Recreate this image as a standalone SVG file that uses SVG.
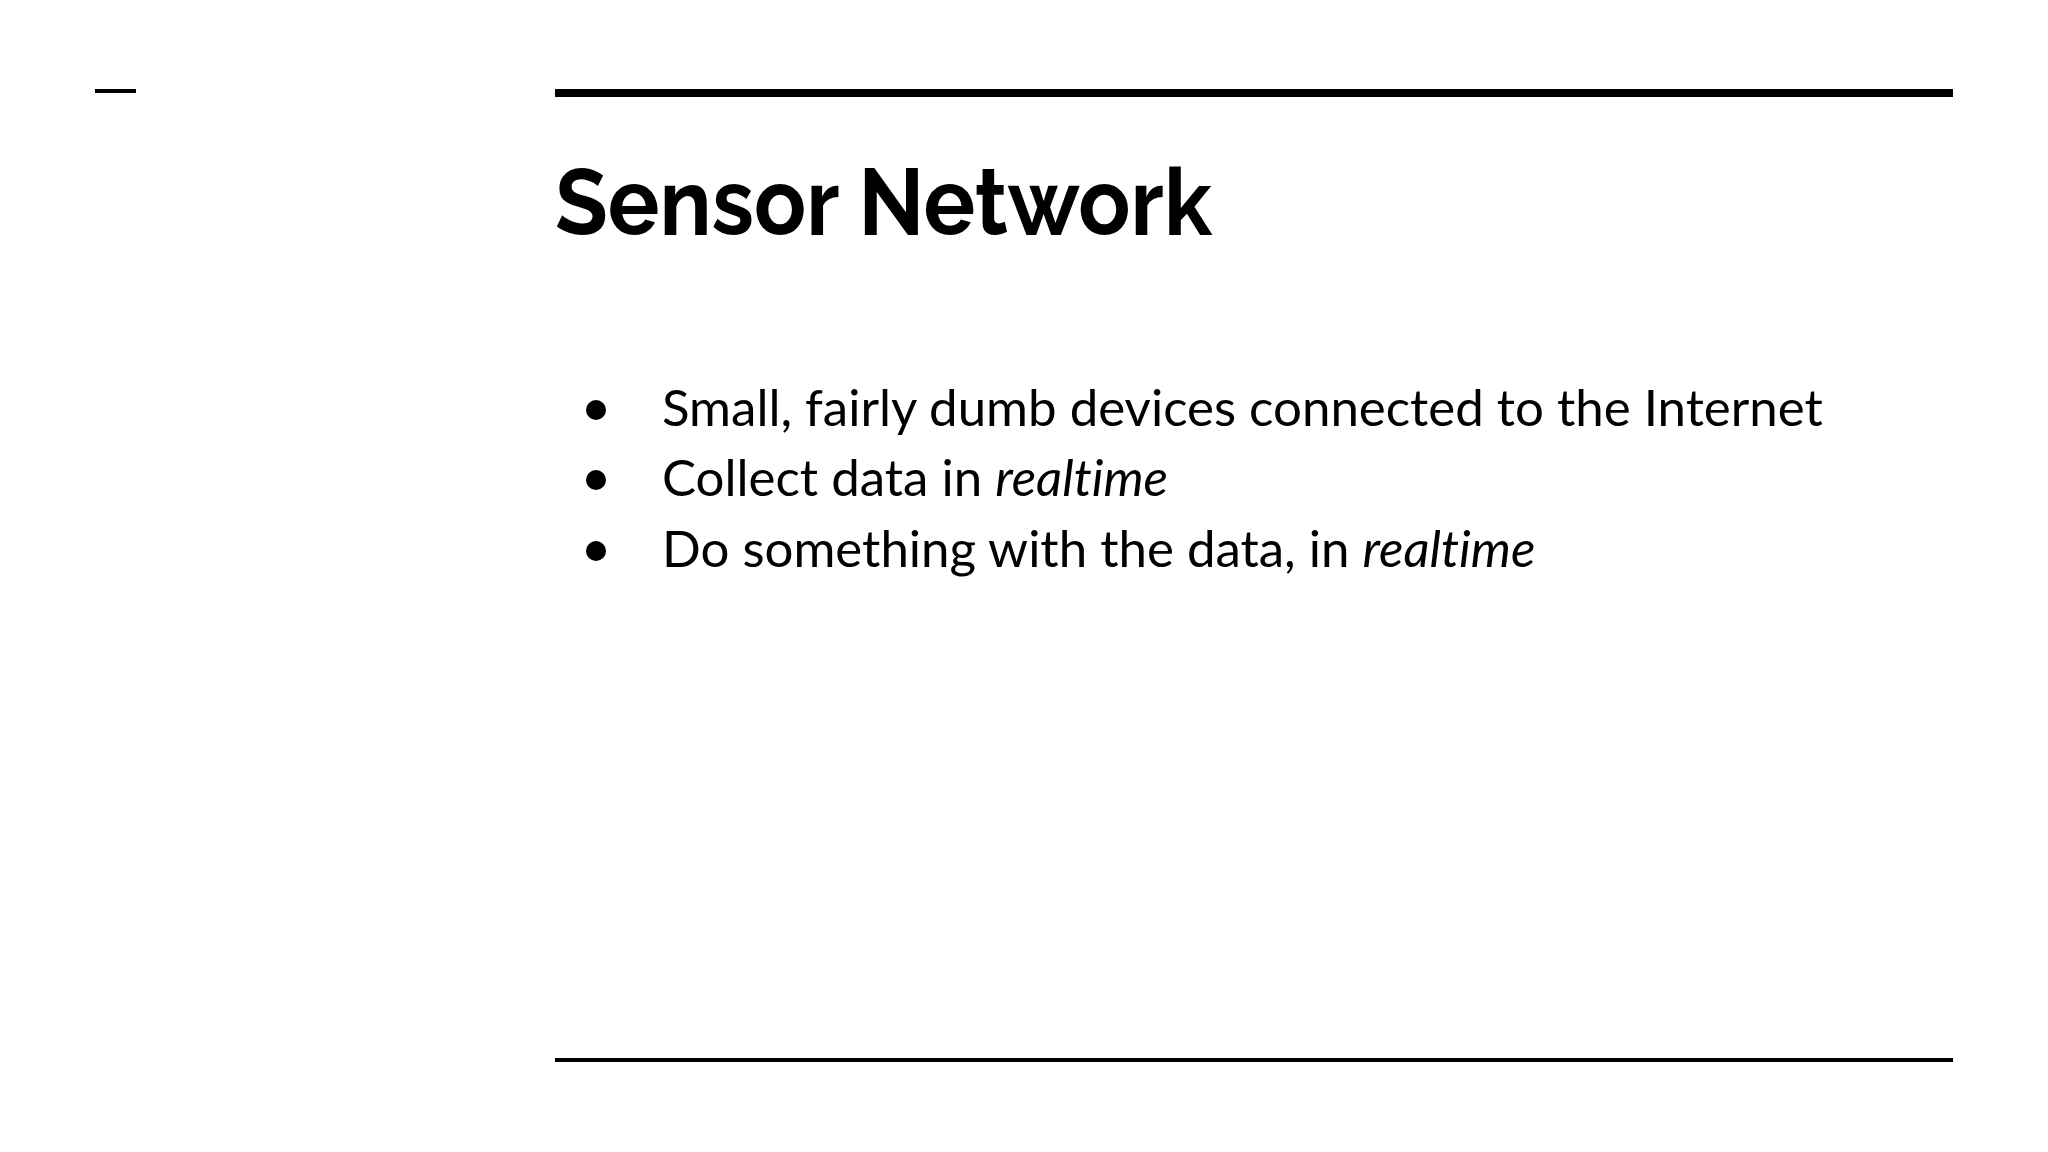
<svg xmlns="http://www.w3.org/2000/svg" width="2048" height="1152" viewBox="0 0 2048 1152">
<style>
.b{font-family:Lato,"Liberation Sans",sans-serif;font-size:51px;fill:#000;font-variant-ligatures:none}
.t{font-family:Raleway,Lato,"Liberation Sans",sans-serif;font-weight:bold;font-size:94px;fill:#000}
</style>
<rect width="2048" height="1152" fill="#fff"/>
<rect x="95" y="89" width="41" height="4" fill="#000"/>
<rect x="555" y="89" width="1398" height="8" fill="#000"/>
<rect x="555" y="1058" width="1398" height="4" fill="#000"/>
<g id="title"><text class="t" x="555" y="235" textLength="657" lengthAdjust="spacingAndGlyphs">Sensor Network</text></g>
<g id="bullets">
<circle cx="596" cy="410" r="10"/><text class="b" x="662" y="426">Small, fairly dumb devices connected to the Internet</text>
<circle cx="596" cy="480" r="10"/><text class="b" x="662" y="496">Collect data in <tspan font-style="italic">realtime</tspan></text>
<circle cx="596" cy="551" r="10"/><text class="b" x="662" y="567">Do something with the data, in <tspan font-style="italic">realtime</tspan></text>
</g>
</svg>
